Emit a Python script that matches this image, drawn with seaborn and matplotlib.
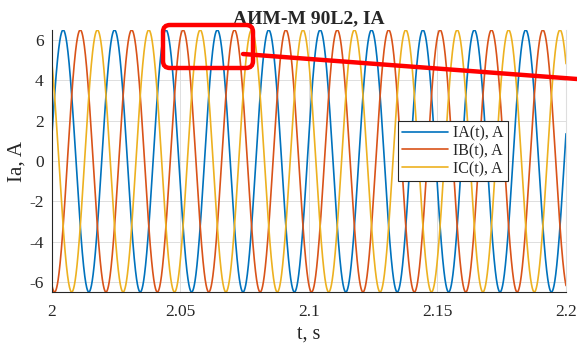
import numpy as np
import pandas as pd
import matplotlib
matplotlib.use("Agg")
import matplotlib.pyplot as plt
import seaborn as sns
from matplotlib.patches import FancyBboxPatch
from matplotlib.lines import Line2D
from matplotlib.transforms import IdentityTransform

# ---------------- datos ----------------
fases = ['IA(t), A', 'IB(t), A', 'IC(t), A']
colores = ['#0072BD', '#D95319', '#EDB120']
amplitud = [6.5, 6.5, 6.5]          # A
frecuencia = 50.0                   # Hz
desfase_grados = [12.0, -108.0, 132.0]  # fase en t = 2 s
t_inicio, t_fin = 2.0, 2.2
xticks = [2.0, 2.05, 2.1, 2.15, 2.2]
xtick_labels = ['2', '2.05', '2.1', '2.15', '2.2']
yticks = [-6, -4, -2, 0, 2, 4, 6]


def construir_df():
    t = np.linspace(t_inicio, t_fin, 4001)
    filas = []
    for nombre, amp, fi in zip(fases, amplitud, desfase_grados):
        y = amp * np.sin(2 * np.pi * frecuencia * (t - t_inicio) + np.radians(fi))
        filas.append(pd.DataFrame({'t': t, 'I': y, 'fase': nombre}))
    return pd.concat(filas, ignore_index=True)


def graficar(df):
    sns.set_style("whitegrid")
    plt.rcParams['font.family'] = ['Liberation Serif', 'DejaVu Serif']
    plt.rcParams['axes.unicode_minus'] = False
    fig = plt.figure(figsize=(5.77, 3.47), dpi=100)
    ax = fig.add_axes([52 / 577, 1 - 292 / 347, (566 - 52) / 577, (292 - 30) / 347])

    sns.lineplot(data=df, x='t', y='I', hue='fase', palette=colores,
                 linewidth=1.2, ax=ax, estimator=None, sort=False)

    ax.set_xlim(t_inicio, t_fin)
    ax.set_ylim(-6.5, 6.5)
    ax.set_xticks(xticks)
    ax.set_xticklabels(xtick_labels)
    ax.set_yticks(yticks)
    ax.tick_params(direction='in', length=4, labelsize=12.5, colors='#262626',
                   width=0.6)
    ax.tick_params(axis='y', pad=6)
    ax.tick_params(axis='x', pad=9)
    ax.grid(True, color='#dedede', linewidth=0.7)

    for lado in ['left', 'bottom']:
        ax.spines[lado].set_visible(True)
        ax.spines[lado].set_color('#262626')
        ax.spines[lado].set_linewidth(0.8)
    ax.spines['top'].set_visible(False)
    ax.spines['right'].set_visible(True)
    ax.spines['right'].set_color('#dedede')

    ax.set_title('АИМ-М 90L2, IA', fontsize=14, fontweight='bold', pad=5)
    ax.set_xlabel('t, s', fontsize=14.5, labelpad=3)
    ax.set_ylabel('Ia, A', fontsize=15, labelpad=2)

    leg = ax.legend(loc='upper left', bbox_to_anchor=(0.673, 0.652),
                    fontsize=11.5, frameon=True, fancybox=False,
                    edgecolor='#262626', framealpha=1, borderpad=0.25,
                    handlelength=2.9, handletextpad=0.3, labelspacing=0.12,
                    borderaxespad=0)
    leg.get_frame().set_linewidth(0.8)
    for linea in leg.get_lines():
        linea.set_linewidth(1.2)

    # ---------- anotacion roja superpuesta ----------
    H = 347
    caja = FancyBboxPatch((163, H - 68), 90, 43,
                          boxstyle='round,pad=0,rounding_size=7',
                          transform=IdentityTransform(), fill=False,
                          edgecolor='#ff0000', linewidth=3.2, zorder=10)
    fig.patches.append(caja)
    caja.set_figure(fig)
    linea = Line2D([243, 577], [H - 54, H - 79], transform=IdentityTransform(),
                   color='#ff0000', linewidth=3.2, zorder=10)
    fig.lines.append(linea)
    linea.set_figure(fig)

    fig.savefig('out.png', dpi=100)


def main():
    df = construir_df()
    graficar(df)


if __name__ == '__main__':
    main()
